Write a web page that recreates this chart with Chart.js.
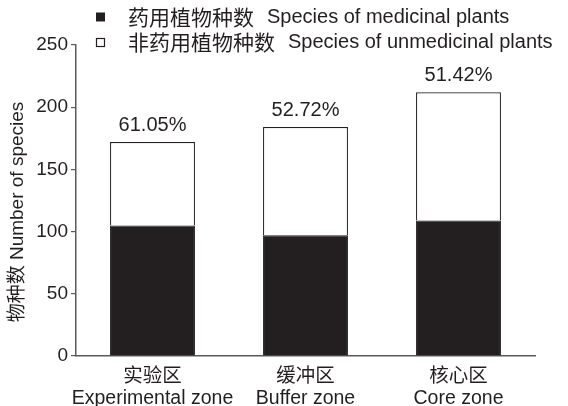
<!DOCTYPE html>
<html>
<head>
<meta charset="utf-8">
<script src="https://cdn.jsdelivr.net/npm/chart.js@4"></script>
<style>
  html, body { margin: 0; padding: 0; background: #fff; }
  #wrap { width: 568px; height: 406px; }
</style>
</head>
<body>
<div id="wrap"><canvas id="chart" width="568" height="406"></canvas></div>
<script>
// Data
const zones = [['实验区', 'Experimental zone'], ['缓冲区', 'Buffer zone'], ['核心区', 'Core zone']];
const medicinal = [105, 97, 109];
const unmedicinal = [67, 87, 103];
const percentLabels = ['61.05%', '52.72%', '51.42%'];
const seriesCn = ['药用植物种数', '非药用植物种数'];
const seriesEn = ['Species of medicinal plants', 'Species of unmedicinal plants'];
const yTicks = [0, 50, 100, 150, 200, 250];

const FONT = "'Liberation Sans', Arial, 'Noto Sans CJK SC', sans-serif";
const CJK = "'Noto Sans CJK SC', sans-serif";
const INK = '#231f20';
const AXIS = '#5a5a5a';

// legend, y title and percent labels
const extras = {
  id: 'extras',
  afterDatasetsDraw(chart) {
    const ctx = chart.ctx;
    ctx.save();
    ctx.fillStyle = INK;
    ctx.strokeStyle = INK;

    // percentages above stacks
    ctx.font = '20px ' + FONT;
    ctx.textAlign = 'center';
    ctx.textBaseline = 'middle';
    const top = chart.getDatasetMeta(1).data;
    top.forEach((bar, i) => {
      ctx.fillText(percentLabels[i], bar.x, bar.y - 17);
    });

    // legend
    ctx.textAlign = 'left';
    ctx.fillRect(96, 12.5, 9, 9);
    ctx.lineWidth = 1.2;
    ctx.strokeRect(96.5, 38.5, 8, 8);
    const rows = [17, 42.5];
    rows.forEach((y, i) => {
      ctx.font = '21px ' + CJK;
      ctx.fillText(seriesCn[i], 128, y);
      const w = ctx.measureText(seriesCn[i]).width;
      ctx.font = '20px ' + FONT;
      ctx.fillText(seriesEn[i], 128 + w + 13, y);
    });

    // y axis title
    ctx.font = '19px ' + FONT;
    ctx.translate(18, 212);
    ctx.rotate(-Math.PI / 2);
    ctx.textAlign = 'center';
    ctx.fillText('物种数 Number of species', 0, 0);
    ctx.restore();
  }
};

new Chart(document.getElementById('chart'), {
  type: 'bar',
  data: {
    labels: zones,
    datasets: [
      {
        label: seriesEn[0],
        data: medicinal,
        backgroundColor: INK,
        borderColor: INK,
        borderWidth: 1
      },
      {
        label: seriesEn[1],
        data: unmedicinal,
        backgroundColor: '#ffffff',
        borderColor: INK,
        borderWidth: 1.2
      }
    ]
  },
  options: {
    responsive: false,
    animation: false,
    events: [],
    barPercentage: 0.555,
    categoryPercentage: 1,
    layout: { padding: { top: 45, right: 33, left: 0, bottom: 0 } },
    plugins: {
      legend: { display: false },
      tooltip: { enabled: false }
    },
    scales: {
      x: {
        stacked: true,
        grid: { display: false },
        border: { color: AXIS, width: 1.5 },
        ticks: {
          color: INK,
          padding: 2,
          maxRotation: 0,
          minRotation: 0,
          autoSkip: false,
          font: { family: FONT, size: 19.5, lineHeight: 1.11 }
        },
        afterFit(scale) {
          scale.height = 50;
          scale.paddingLeft = 0;
          scale.paddingRight = 0;
        }
      },
      y: {
        stacked: true,
        min: 0,
        max: 250,
        afterBuildTicks(scale) { scale.ticks = yTicks.map(v => ({ value: v })); },
        grid: { drawOnChartArea: false, color: AXIS, tickLength: 5, lineWidth: 1.2 },
        border: { color: AXIS, width: 1.5 },
        ticks: {
          color: INK,
          padding: 3,
          font: { family: FONT, size: 19 }
        },
        afterFit(scale) {
          scale.width = 76;
          scale.paddingTop = 0;
          scale.paddingBottom = 0;
        }
      }
    }
  },
  plugins: [extras]
});
</script>
</body>
</html>
